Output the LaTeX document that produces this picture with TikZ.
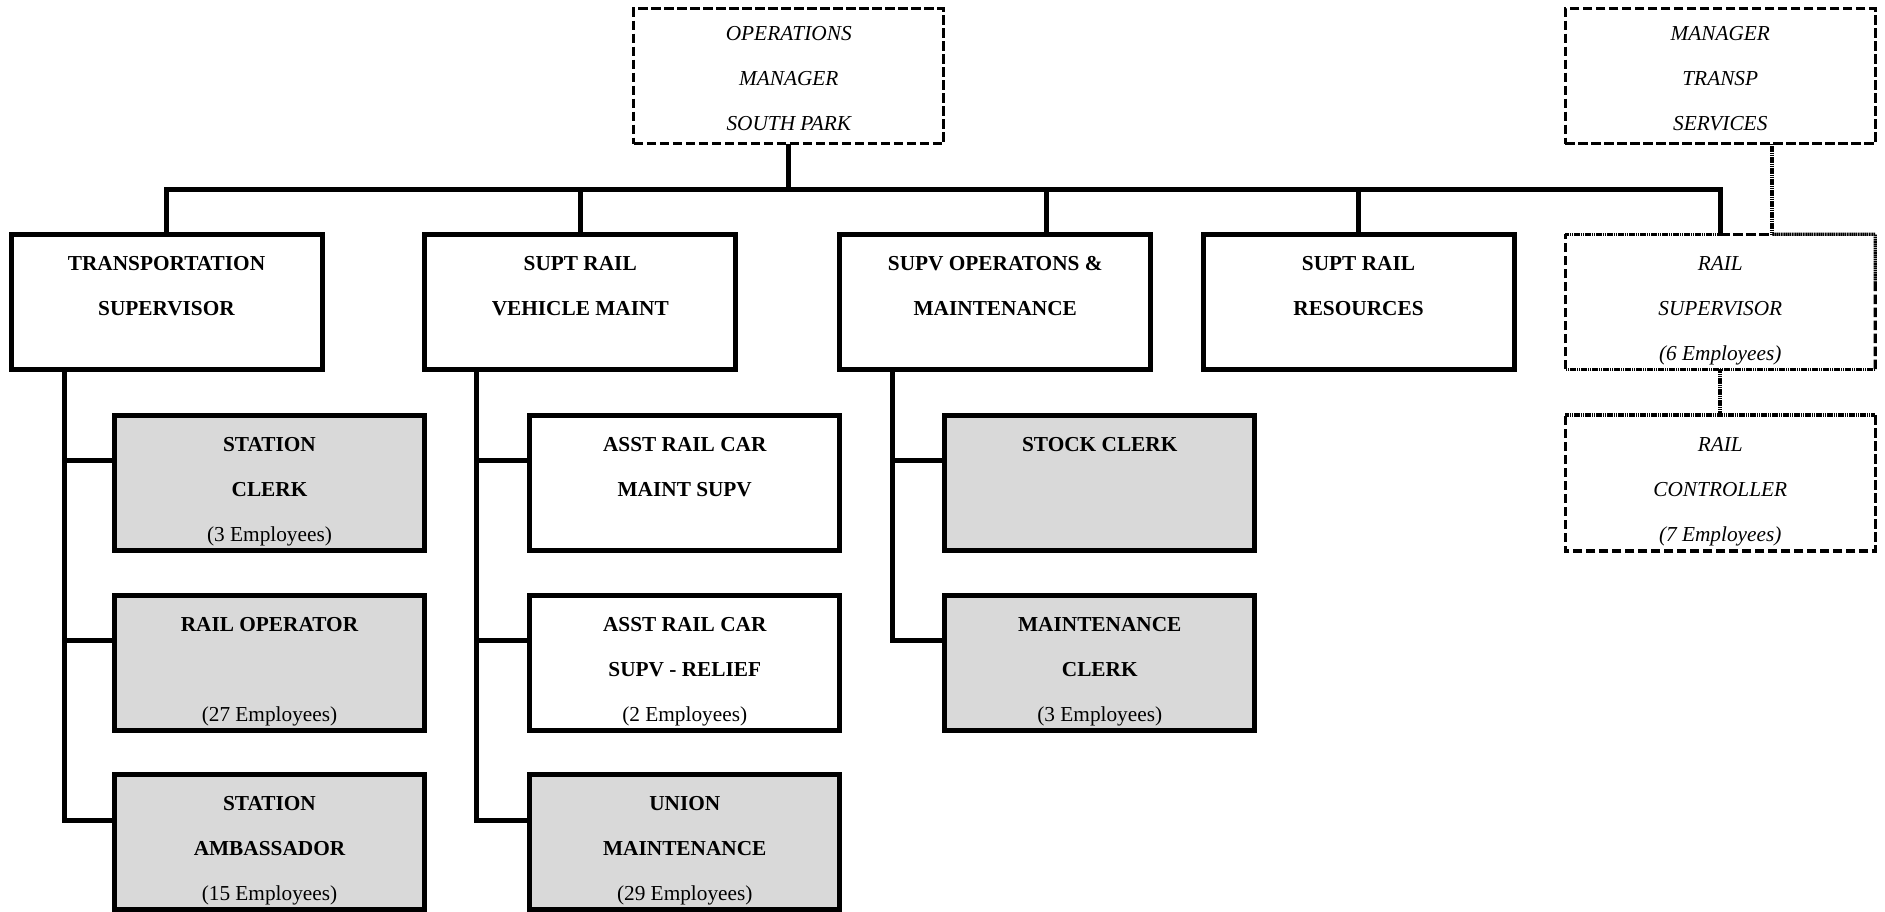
\documentclass[tikz,border=0pt]{standalone}
\usepackage{fontspec}
\setmainfont{Liberation Serif}
\usetikzlibrary{calc}
\definecolor{boxgrey}{HTML}{D9D9D9}
% line struts: every text line gets the same height and depth
\newcommand{\lnA}{\rule[-9pt]{0pt}{45pt}}
\newcommand{\lnB}{\rule[-13pt]{0pt}{45pt}}

\begin{document}
\begin{tikzpicture}[x=1pt,y=-1pt,
  every node/.style={outer sep=0pt, inner sep=0pt},
  box/.style={rectangle, align=center, minimum width=310pt, minimum height=134pt,
              font=\fontsize{21.3}{45}\selectfont},
  solidbox/.style={box, draw, line width=5pt, font=\fontsize{21.3}{45}\selectfont\bfseries},
  greybox/.style={solidbox, fill=boxgrey},
  topbox/.style={solidbox, minimum width=311pt, minimum height=135pt},
  mgrbox/.style={box, font=\fontsize{21.3}{45}\selectfont\itshape},
  dashedge/.style={line width=3.3pt, dash pattern=on 9.5pt off 3.5pt},
  dotedge/.style={line width=3.3pt, dash pattern=on 1.6pt off 0.6pt},
  link/.style={line width=5pt},
  dotlink/.style={line width=4pt, dash pattern=on 1.6pt off 0.6pt}]

\useasboundingbox (0,0) rectangle (1885,912);

% managers (dashed)
\node[mgrbox, minimum height=134.5pt, draw, dashedge] (ops) at (788.75,76.25)
  {\lnB OPERATIONS\\\lnB MANAGER\\\lnB SOUTH PARK};
\node[mgrbox, minimum height=134.5pt, draw, dashedge] (mt) at (1720.25,76.25)
  {\lnB MANAGER\\\lnB TRANSP\\\lnB SERVICES};

% first level
\node[topbox] (ts) at (166.5,302) {\lnA TRANSPORTATION\\\lnA SUPERVISOR\\\lnA};
\node[topbox] (vm) at (580.25,302) {\lnA SUPT RAIL\\\lnA VEHICLE MAINT\\\lnA};
\node[topbox] (so) at (995.25,302) {\lnA SUPV OPERATONS \&\\\lnA MAINTENANCE\\\lnA};
\node[topbox] (rr) at (1358.5,302) {\lnA SUPT RAIL\\\lnA RESOURCES\\\lnA};
\node[mgrbox, minimum height=134.5pt] (rsup) at (1720.25,301.75)
  {\lnA RAIL\\\lnA SUPERVISOR\\\lnA (6 Employees)};
\node[mgrbox, minimum height=136pt] (rc) at (1720.25,483)
  {\lnA RAIL\\\lnA CONTROLLER\\\lnA (7 Employees)};

% second level
\node[greybox] (sc) at (269.5,483) {\lnA STATION\\\lnA CLERK\\\lnA{\mdseries (3 Employees)}};
\node[greybox] (ro) at (269.5,663) {\lnA RAIL OPERATOR\\\lnA\\\lnA{\mdseries (27 Employees)}};
\node[greybox, minimum height=132pt] (sa) at (269.5,842) {\lnA STATION\\\lnA AMBASSADOR\\\lnA{\mdseries (15 Employees)}};

\node[solidbox] (am) at (684.75,483) {\lnA ASST RAIL CAR\\\lnA MAINT SUPV\\\lnA};
\node[solidbox] (ar) at (684.75,663) {\lnA ASST RAIL CAR\\\lnA SUPV - RELIEF\\\lnA{\mdseries (2 Employees)}};
\node[greybox, minimum height=132pt] (um) at (684.75,842) {\lnA UNION\\\lnA MAINTENANCE\\\lnA{\mdseries (29 Employees)}};

\node[greybox] (sk) at (1099.75,483) {\lnA STOCK CLERK\\\lnA\\\lnA};
\node[greybox] (mc) at (1099.75,663) {\lnA MAINTENANCE\\\lnA CLERK\\\lnA{\mdseries (3 Employees)}};

% borders of the rail boxes
\draw[dashedge] (rsup.south west) -- (rsup.north west);
\draw[dotedge] (rsup.north west) -- (rsup.north);
\draw[dashedge] (rsup.north) -- ([xshift=52pt]rsup.north);
\draw[dotedge] ([xshift=52pt]rsup.north) -- (rsup.north east)
  -- ($(rsup.north east)!0.35!(rsup.south east)$);
\draw[dashedge] ($(rsup.north east)!0.35!(rsup.south east)$) -- (rsup.south east);
\draw[dotedge] (rsup.south east) -- (rsup.south west);

\draw[dotedge] (rc.north west) -- (rc.north east);
\draw[dashedge] (rc.north east) -- (rc.south east) -- (rc.south west) -- (rc.north west);

% top bus
\coordinate (bus) at (788.75,190);
\draw[link] (ops.south) -- (bus);
\draw[link] (ts.north) |- (bus) -| (rsup.north);
\draw[link] (vm.north) -- (vm.north |- bus);
\draw[link] ([xshift=51pt]so.north) -- ([xshift=51pt]so.north |- bus);
\draw[link] (rr.north) -- (rr.north |- bus);

% dotted reporting lines
\draw[dotlink] ([xshift=52pt]mt.south) -- ([xshift=52pt]rsup.north);
\draw[dotlink] (rsup.south) -- (rc.north);

% branches to second level
\coordinate (b1) at ([xshift=53.5pt]ts.south west);
\draw[link] (b1) |- ([yshift=22pt]sa.west);
\draw[link] ([yshift=23pt]sc.west) -- ([yshift=23pt]sc.west -| b1);
\draw[link] ([yshift=23pt]ro.west) -- ([yshift=23pt]ro.west -| b1);

\coordinate (b2) at ([xshift=52pt]vm.south west);
\draw[link] (b2) |- ([yshift=22pt]um.west);
\draw[link] ([yshift=23pt]am.west) -- ([yshift=23pt]am.west -| b2);
\draw[link] ([yshift=23pt]ar.west) -- ([yshift=23pt]ar.west -| b2);

\coordinate (b3) at ([xshift=52.5pt]so.south west);
\draw[link] (b3) |- ([yshift=23pt]mc.west);
\draw[link] ([yshift=23pt]sk.west) -- ([yshift=23pt]sk.west -| b3);

\end{tikzpicture}
\end{document}
